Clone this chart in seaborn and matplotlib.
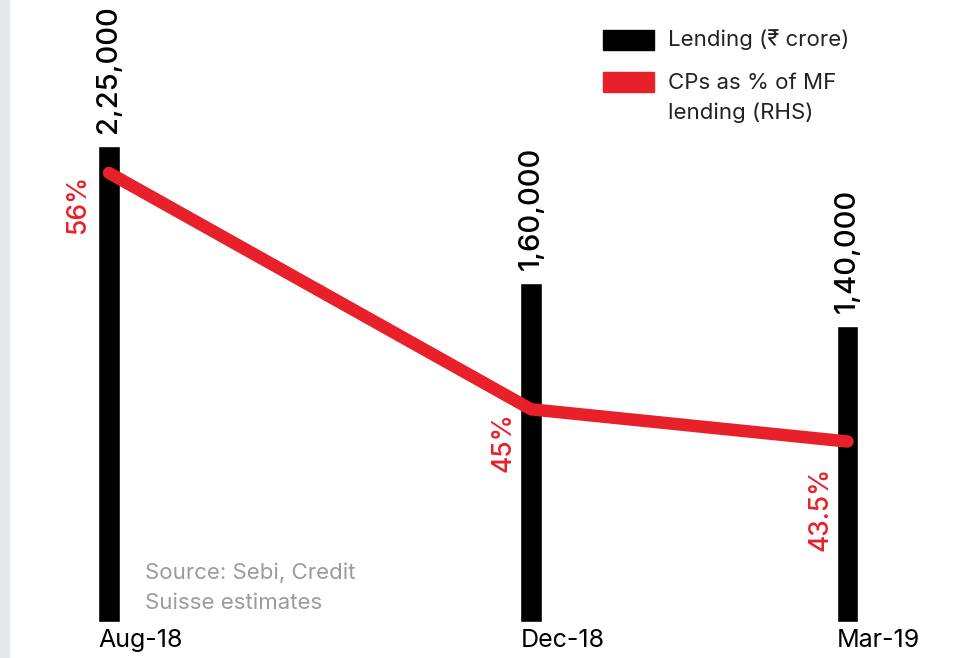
import numpy as np
import pandas as pd
import matplotlib
matplotlib.use("Agg")
import matplotlib.pyplot as plt
from matplotlib.patches import Rectangle
import seaborn as sns

# ---- data ----
periods = ["Aug-18", "Dec-18", "Mar-19"]
period_dates = ["2018-08-01", "2018-12-01", "2019-03-01"]
lending = [225000, 160000, 140000]          # Rs crore
lending_labels = ["2,25,000", "1,60,000", "1,40,000"]
cp_pct = [56, 45, 43.5]                       # CPs as % of MF lending (RHS)
cp_labels = ["56%", "45%", "43.5%"]

# month offsets from the first period (time-scaled x axis)
d = pd.to_datetime(period_dates)
month_idx = [(x.year - d[0].year) * 12 + (x.month - d[0].month) for x in d]

sns.set_theme(style="white")
plt.rcParams["font.family"] = ["Inter", "DejaVu Sans"]

W, H = 977, 658
fig = plt.figure(figsize=(W / 100, H / 100), dpi=100, facecolor="white")

def fx(px):
    return px / W

def fy(py):
    return 1 - py / H

RED = "#e8202a"
BAR_W = 0.2  # in months

ax = fig.add_axes([0, fy(622), 1, fy(0) - fy(622)])
ax.patch.set_visible(False)

df = pd.DataFrame({"m": month_idx, "lending": lending})
min_gap = np.min(np.diff(sorted(month_idx)))
sns.barplot(data=df, x="m", y="lending", native_scale=True, color="black",
            width=BAR_W / min_gap, saturation=1, ax=ax, zorder=2)
ax.set_xlim(-109 / 105.5, (977 - 109) / 105.5)
ax.set_ylim(0, 294000)
ax.set_xlabel("")
ax.set_ylabel("")
ax.set_xticks([])
ax.set_yticks([])
for s in ax.spines.values():
    s.set_visible(False)

# value labels above bars
for m, v, lab in zip(month_idx, lending, lending_labels):
    ax.annotate(lab, xy=(m, v), xytext=(0, 9.4), textcoords="offset points",
                rotation=90, ha="center", va="bottom", fontsize=21,
                color="black", fontweight="medium")

# x tick labels, left aligned with bar edge
for m, lab in zip(month_idx, periods):
    ax.text(m - BAR_W / 2, -0.012, lab, transform=ax.get_xaxis_transform(),
            ha="left", va="top", fontsize=18, color="black")

ax2 = ax.twinx()
ax2.patch.set_visible(False)
sns.lineplot(x=month_idx, y=cp_pct, ax=ax2, color=RED, linewidth=9,
             solid_capstyle="round", solid_joinstyle="round", zorder=3)
ax2.set_ylim(35.1, 64.05)
ax2.set_yticks([])
ax2.set_ylabel("")
for s in ax2.spines.values():
    s.set_visible(False)

offsets_px = [(-31, -2), (-28, -3), (-27, -25)]
for m, v, lab, (dx, dy) in zip(month_idx, cp_pct, cp_labels, offsets_px):
    ax2.annotate(lab, xy=(m, v), xytext=(dx * 0.72, dy * 0.72),
                 textcoords="offset points", rotation=90, ha="center",
                 va="top", fontsize=19, color=RED, fontweight="medium")

# left gray band
fig.patches.append(Rectangle((0, 0), fx(9), 1, transform=fig.transFigure,
                             color="#e6e7e9", zorder=0))

# legend
fig.patches.append(Rectangle((fx(603), fy(50)), fx(51), fy(30) - fy(50),
                             transform=fig.transFigure, color="black"))
fig.patches.append(Rectangle((fx(603), fy(92)), fx(51), fy(72) - fy(92),
                             transform=fig.transFigure, color=RED))
fig.text(fx(668), fy(40), "Lending (₹ crore)", ha="left", va="center",
         fontsize=16, color="#222222")
fig.text(fx(668), fy(83), "CPs as % of MF", ha="left", va="center",
         fontsize=16, color="#222222")
fig.text(fx(668), fy(113), "lending (RHS)", ha="left", va="center",
         fontsize=16, color="#222222")

# source
fig.text(fx(145), fy(573), "Source: Sebi, Credit", ha="left", va="center",
         fontsize=16, color="#9b9b9b")
fig.text(fx(145), fy(603), "Suisse estimates", ha="left", va="center",
         fontsize=16, color="#9b9b9b")

fig.savefig("out.png", dpi=100, facecolor="white")
